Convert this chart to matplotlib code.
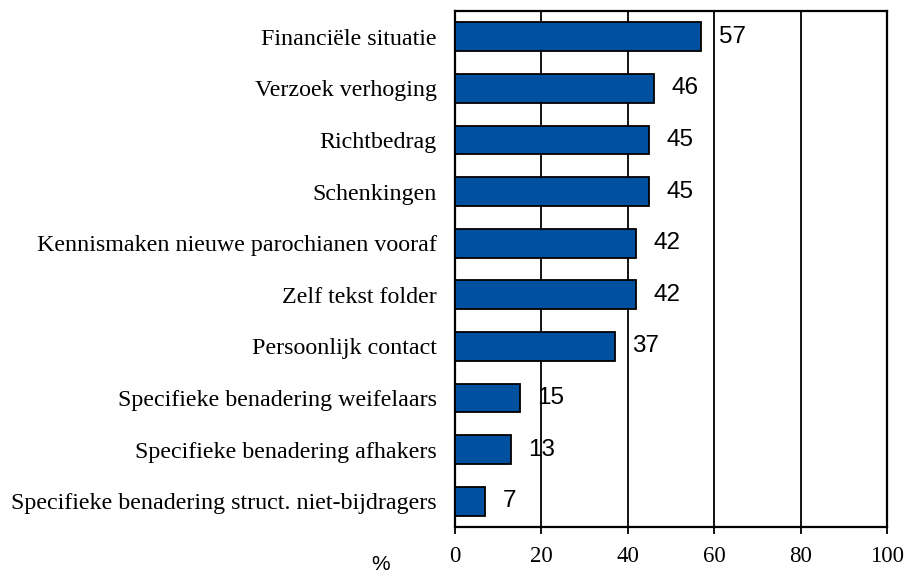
import matplotlib

matplotlib.use("Agg")
import matplotlib.pyplot as plt

categories = [
    "Financiële situatie",
    "Verzoek verhoging",
    "Richtbedrag",
    "Schenkingen",
    "Kennismaken nieuwe parochianen vooraf",
    "Zelf tekst folder",
    "Persoonlijk contact",
    "Specifieke benadering weifelaars",
    "Specifieke benadering afhakers",
    "Specifieke benadering struct. niet-bijdragers",
]
values = [57, 46, 45, 45, 42, 42, 37, 15, 13, 7]
xticks = [0, 20, 40, 60, 80, 100]

BAR = "#0050a0"
SERIF = "Liberation Serif"
SANS = "Liberation Sans"

fig = plt.figure(figsize=(9.09, 5.74), dpi=100)
ax = fig.add_axes([0.5006, 0.0819, 0.4752, 0.8989])

pos = list(range(len(categories)))
ax.barh(pos, values, height=0.56, color=BAR, edgecolor="black", linewidth=1.3, zorder=3)
for x in xticks[1:-1]:
    ax.axvline(x, color="black", linewidth=1.3, zorder=1)

# value labels sit a fixed distance right of each bar end
for p, v in zip(pos, values):
    ax.text(v + 4, p, str(v), va="center", ha="left", fontsize=17.5, family=SANS, zorder=4)

ax.set_xlim(0, 100)
ax.set_ylim(len(categories) - 0.5, -0.5)
ax.set_yticks(pos)
ax.set_yticklabels(categories, family=SERIF, fontsize=17.3)
ax.tick_params(axis="y", length=0, pad=13)
ax.set_xticks(xticks)
ax.set_xticklabels([str(t) for t in xticks], family=SERIF, fontsize=16.5)
ax.tick_params(axis="x", direction="out", length=5, width=1.3, pad=9)
for s in ax.spines.values():
    s.set_linewidth(1.6)

fig.text(381 / 909, 1 - 564 / 574, "%", family=SANS, fontsize=15, ha="center", va="center")

fig.savefig("out.png", dpi=100)
